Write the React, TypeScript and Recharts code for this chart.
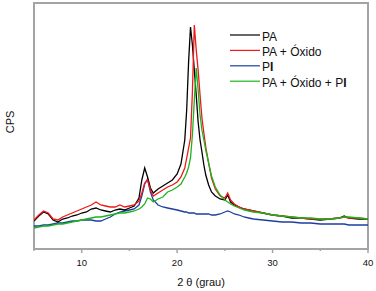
import React from "react";
import { LineChart, Line, XAxis, YAxis, ReferenceArea } from "recharts";

// 2θ positions (degrees) where the patterns were read
const theta = [
  5, 5.5, 6, 6.5, 7, 7.5, 8, 8.5, 9, 9.5, 10, 10.5, 11, 11.5, 12, 12.5, 13, 13.5, 14, 14.5, 15, 15.5, 16,
  16.3, 16.6, 16.9, 17.2, 17.5, 18, 18.5, 19, 19.5, 20, 20.4, 20.8,
  21, 21.2, 21.4, 21.6, 21.8, 22, 22.2, 22.4, 22.6, 22.8, 23,
  23.3, 23.6, 24, 24.5, 25, 25.3, 25.6, 26, 26.5, 27, 27.5, 28,
  29, 30, 31, 32, 33, 34, 35, 36, 37, 37.5, 38, 39, 40,
];

// intensities (arbitrary CPS units)
const pa = [
  28, 33, 37, 35, 29, 27, 30, 31, 33, 34, 36, 37, 40, 41, 39, 38, 37, 39, 40, 39, 41, 43, 51,
  69, 81, 72, 61, 56, 60, 63, 66, 69, 75, 85, 109,
  139, 187, 222, 204, 179, 154, 127, 109, 97, 84, 74,
  64, 57, 53, 50, 49, 54, 47, 44, 42, 40, 39, 38,
  36, 34, 33, 31, 31, 30, 29, 30, 31, 33, 31, 30, 30,
];

const paOxido = [
  29, 34, 38, 36, 30, 29, 32, 34, 36, 38, 40, 42, 44, 47, 44, 43, 42, 42, 44, 42, 43, 44, 48,
  56, 66, 69, 59, 53, 56, 59, 62, 64, 67, 72, 81,
  91, 101, 111, 157, 224, 199, 179, 154, 131, 116, 102,
  86, 71, 60, 53, 51, 56, 49, 45, 42, 40, 39, 38,
  36, 34, 33, 32, 31, 30, 30, 30, 31, 32, 31, 31, 30,
];

const pi = [
  23, 23, 24, 24, 25, 26, 26, 27, 28, 28, 29, 29, 29, 28, 28, 30, 32, 35, 37, 38, 39, 40, 44,
  53, 65, 70, 57, 49, 44, 42, 41, 40, 39, 38, 37,
  37, 36, 36, 36, 36, 35, 35, 35, 35, 35, 35,
  35, 34, 34, 35, 37, 38, 37, 35, 34, 32, 31, 30,
  29, 28, 27, 27, 26, 26, 25, 25, 25, 25, 24, 24, 24,
];

const paOxidoPi = [
  21, 22, 23, 23, 24, 25, 25, 26, 27, 28, 29, 30, 31, 32, 32, 33, 34, 35, 36, 36, 37, 38, 40,
  42, 45, 51, 50, 47, 50, 52, 57, 59, 62, 65, 72,
  76, 82, 91, 114, 149, 181, 159, 134, 119, 109, 99,
  86, 73, 62, 54, 49, 47, 45, 43, 41, 39, 38, 37,
  36, 34, 33, 32, 31, 31, 30, 30, 31, 32, 32, 31, 30,
];

const xTicks = [5, 10, 15, 20, 25, 30, 35, 40];

const series = [
  { key: "pi", name: "PI", color: "#1d3f9f" },
  { key: "pa", name: "PA", color: "#000000" },
  { key: "paOx", name: "PA + Óxido", color: "#f01818" },
  { key: "paOxPi", name: "PA + Óxido + PI", color: "#1cb41c" },
];

const legendOrder = ["pa", "paOx", "pi", "paOxPi"];

const rows = theta.map((t, i) => ({
  theta: t,
  pa: pa[i],
  paOx: paOxido[i],
  pi: pi[i],
  paOxPi: paOxidoPi[i],
}));

const FONT = "'Liberation Sans', Arial, sans-serif";
const FRAME = "#a4a4a4";

function AxisTick(props: any) {
  const { x, y, payload } = props;
  const major = payload.value % 10 === 0;
  return (
    <g>
      <line x1={x} x2={x} y1={y} y2={y + (major ? 4 : 2)} stroke={FRAME} strokeWidth={1.5} />
      {major && (
        <text x={x} y={y + 17} textAnchor="middle" fontSize={9.5} fontFamily={FONT} fill="#111">
          {payload.value}
        </text>
      )}
    </g>
  );
}

function legendLabel(name: string) {
  // the "I" of PI is printed heavier in the original
  if (name.endsWith("PI")) {
    return (
      <>
        {name.slice(0, -1)}
        <tspan fontWeight="bold">I</tspan>
      </>
    );
  }
  return name;
}

export default function App() {
  return (
    <div style={{ position: "relative", width: 376, height: 291, background: "#fff" }}>
      <style>{"body{margin:0}"}</style>
      <LineChart width={376} height={291} data={rows} margin={{ top: 3, right: 8, left: 34, bottom: 0 }}>
        <XAxis
          type="number"
          dataKey="theta"
          domain={[5, 40]}
          ticks={xTicks}
          interval={0}
          tick={<AxisTick />}
          tickLine={false}
          tickSize={0}
          tickMargin={0}
          axisLine={{ stroke: FRAME, strokeWidth: 2 }}
          height={42}
          allowDataOverflow
          label={{ value: "2 θ (grau)", position: "insideBottom", offset: 5, fontSize: 11, fontFamily: FONT, fill: "#111" }}
        />
        <YAxis hide domain={[0, 246]} allowDataOverflow />
        <ReferenceArea x1={5} x2={40} y1={0} y2={246} fill="none" stroke={FRAME} strokeWidth={2} />
        {series.map((s) => (
          <Line
            key={s.key}
            dataKey={s.key}
            name={s.name}
            type="linear"
            stroke={s.color}
            strokeWidth={1.3}
            dot={false}
            isAnimationActive={false}
          />
        ))}
      </LineChart>
      <svg
        width={376}
        height={291}
        style={{ position: "absolute", left: 0, top: 0, pointerEvents: "none" }}
      >
        <text
          x={10}
          y={122}
          transform="rotate(-90 10 122)"
          textAnchor="middle"
          dominantBaseline="central"
          fontSize={11}
          fontFamily={FONT}
          fill="#111"
        >
          CPS
        </text>
        {legendOrder.map((k, i) => {
          const s = series.find((d) => d.key === k)!;
          const y = 35 + i * 15.4;
          return (
            <g key={k}>
              <line x1={230} x2={260} y1={y} y2={y} stroke={s.color} strokeWidth={1.2} />
              <text x={262} y={y + 5.5} fontSize={12} fontFamily={FONT} fill="#111">
                {legendLabel(s.name)}
              </text>
            </g>
          );
        })}
      </svg>
    </div>
  );
}
